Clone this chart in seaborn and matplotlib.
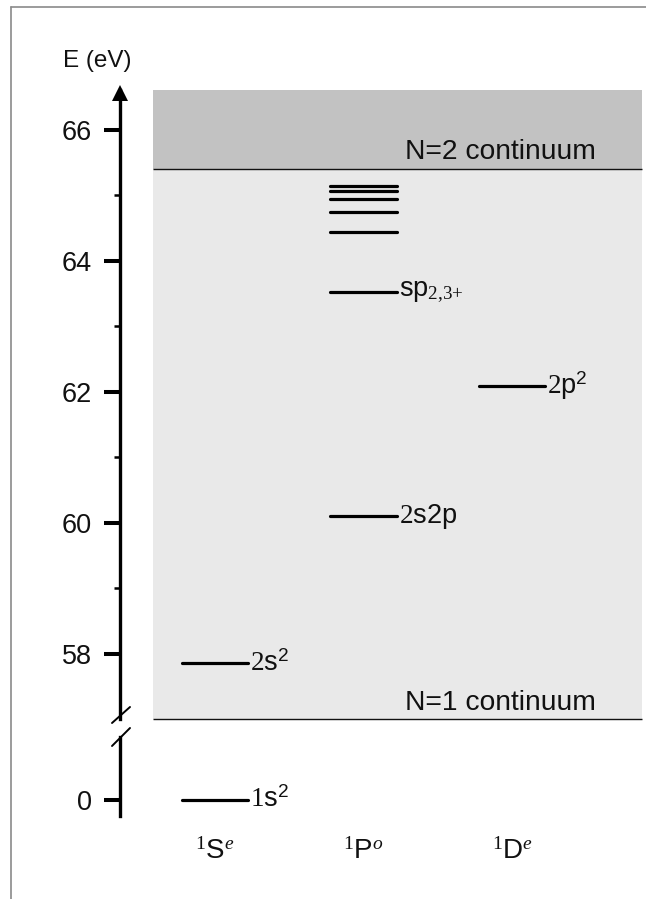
import matplotlib
matplotlib.use("Agg")
import matplotlib.pyplot as plt
import seaborn as sns
import pandas as pd
from matplotlib.lines import Line2D

sns.set_theme(style="white")
plt.rcParams["font.family"] = ["Liberation Sans", "DejaVu Sans"]
plt.rcParams["mathtext.fontset"] = "custom"
plt.rcParams["mathtext.rm"] = "Liberation Serif"
plt.rcParams["mathtext.it"] = "Liberation Serif:italic"
plt.rcParams["mathtext.sf"] = "Liberation Sans"

# ---- data -------------------------------------------------------------
symmetries = [r"$^{\mathrm{1}}\mathsf{S}^{e}$",
              r"$^{\mathrm{1}}\mathsf{P}^{o}$",
              r"$^{\mathrm{1}}\mathsf{D}^{e}$"]

state_column = [0, 0, 1, 1, 1, 1, 1, 1, 1, 2]
state_energy = [0.0, 57.85, 60.10, 63.52, 64.44, 64.75, 64.95, 65.06, 65.15, 62.09]
state_label = [r"$\mathrm{1}\mathsf{s}^{\mathsf{2}}$",
               r"$\mathrm{2}\mathsf{s}^{\mathsf{2}}$",
               r"$\mathrm{2}\mathsf{s2p}$",
               r"$\mathsf{sp}_{\mathrm{2{,}3{+}}}$",
               "", "", "", "", "",
               r"$\mathrm{2}\mathsf{p}^{\mathsf{2}}$"]

n2_threshold = 65.4
n1_edge = 57.0
upper_ticks = [58, 60, 62, 64, 66]
upper_minor = [59, 61, 63, 65]
lower_ticks = [0]

# ---- layout helpers (pixel -> figure fraction) ------------------------
W, H = 646, 899
def fx(px):
    return px / W
def fy(py):
    return 1 - py / H

fig = plt.figure(figsize=(W / 100, H / 100), dpi=100)
ax_top = fig.add_axes([fx(120), fy(719), fx(642) - fx(120), fy(90) - fy(719)])
ax_bot = fig.add_axes([fx(120), fy(816), fx(642) - fx(120), fy(737) - fy(816)])

XLIM = (-0.6397, 2.875)
UPPER_YLIM = (n1_edge, 66.61)
LOWER_YLIM = (-0.244, 0.962)
half = 0.225
shade_left = -0.4175

# continuum shading
ax_top.fill_between([shade_left, XLIM[1]], n2_threshold, UPPER_YLIM[1],
                    color="#c2c2c2", lw=0, zorder=0)
ax_top.fill_between([shade_left, XLIM[1]], n1_edge, n2_threshold,
                    color="#e9e9e9", lw=0, zorder=0)
ax_top.hlines([n2_threshold, n1_edge], shade_left, XLIM[1],
              color="#111111", lw=1.0, zorder=1, clip_on=False)
ax_top.text(2.566, n2_threshold + 0.15, "N=2 continuum", ha="right",
            va="baseline", fontsize=20.3, color="#111111")
ax_top.text(2.566, n1_edge + 0.14, "N=1 continuum", ha="right",
            va="baseline", fontsize=20.3, color="#111111")

# energy levels as short horizontal segments
rows = []
for i, (c, e) in enumerate(zip(state_column, state_energy)):
    rows.append({"state": i, "x": c - half, "E": e})
    rows.append({"state": i, "x": c + half, "E": e})
levels = pd.DataFrame(rows)

for ax in (ax_top, ax_bot):
    sns.lineplot(data=levels, x="x", y="E", units="state", estimator=None,
                 sort=False, color="black", linewidth=2.3, ax=ax,
                 legend=False, zorder=3)
    ax.set_xlim(*XLIM)
    ax.set_xlabel("")
    ax.set_ylabel("")
    ax.set_facecolor("none")
    ax.set_xticks([])
    for side in ("top", "right", "bottom"):
        ax.spines[side].set_visible(False)
    ax.spines["left"].set_linewidth(2.4)
    ax.spines["left"].set_color("black")
    ax.tick_params(axis="y", which="major", direction="out", length=11.5,
                   width=2.9, color="black", pad=8.5, labelsize=19.5,
                   labelcolor="#111111", left=True)
    ax.tick_params(axis="y", which="minor", direction="out", length=4.3,
                   width=1.8, color="black", left=True)

ax_top.set_ylim(*UPPER_YLIM)
ax_bot.set_ylim(*LOWER_YLIM)
ax_top.set_yticks(upper_ticks)
ax_top.set_yticks(upper_minor, minor=True)
ax_bot.set_yticks(lower_ticks)

# state labels to the right of each level
for c, e, lab in zip(state_column, state_energy, state_label):
    if not lab:
        continue
    target = ax_bot if e < 10 else ax_top
    target.text(c + half + 0.012, e, lab, ha="left", va="center",
                fontsize=19.5, color="#111111", zorder=4)

# symmetry labels below the columns
for c, s in enumerate(symmetries):
    ax_bot.text(c, -0.79, s, ha="center", va="center", fontsize=20,
                color="#111111", clip_on=False)

# axis title and arrow head
ax_top.text(-0.795, 67.05, "E (eV)", ha="center", va="center",
            fontsize=17.5, color="#111111", clip_on=False)
ax_top.plot([0], [1 - 2.5 / 629], marker="^", ms=12, color="black",
            mew=0, transform=ax_top.transAxes, clip_on=False)

# axis break marks
for (xa, ya, xb, yb) in [(112, 723, 130, 707), (112, 746, 130, 728)]:
    fig.add_artist(Line2D([fx(xa), fx(xb)], [fy(ya), fy(yb)],
                          color="black", lw=1.4, transform=fig.transFigure))

# frame lines along the top and left edges
fig.add_artist(Line2D([fx(11), 1], [fy(7), fy(7)], color="#8a8a8a",
                      lw=1.2, transform=fig.transFigure))
fig.add_artist(Line2D([fx(11), fx(11)], [fy(7), 0], color="#8a8a8a",
                      lw=1.2, transform=fig.transFigure))

fig.savefig("out.png", dpi=100)
